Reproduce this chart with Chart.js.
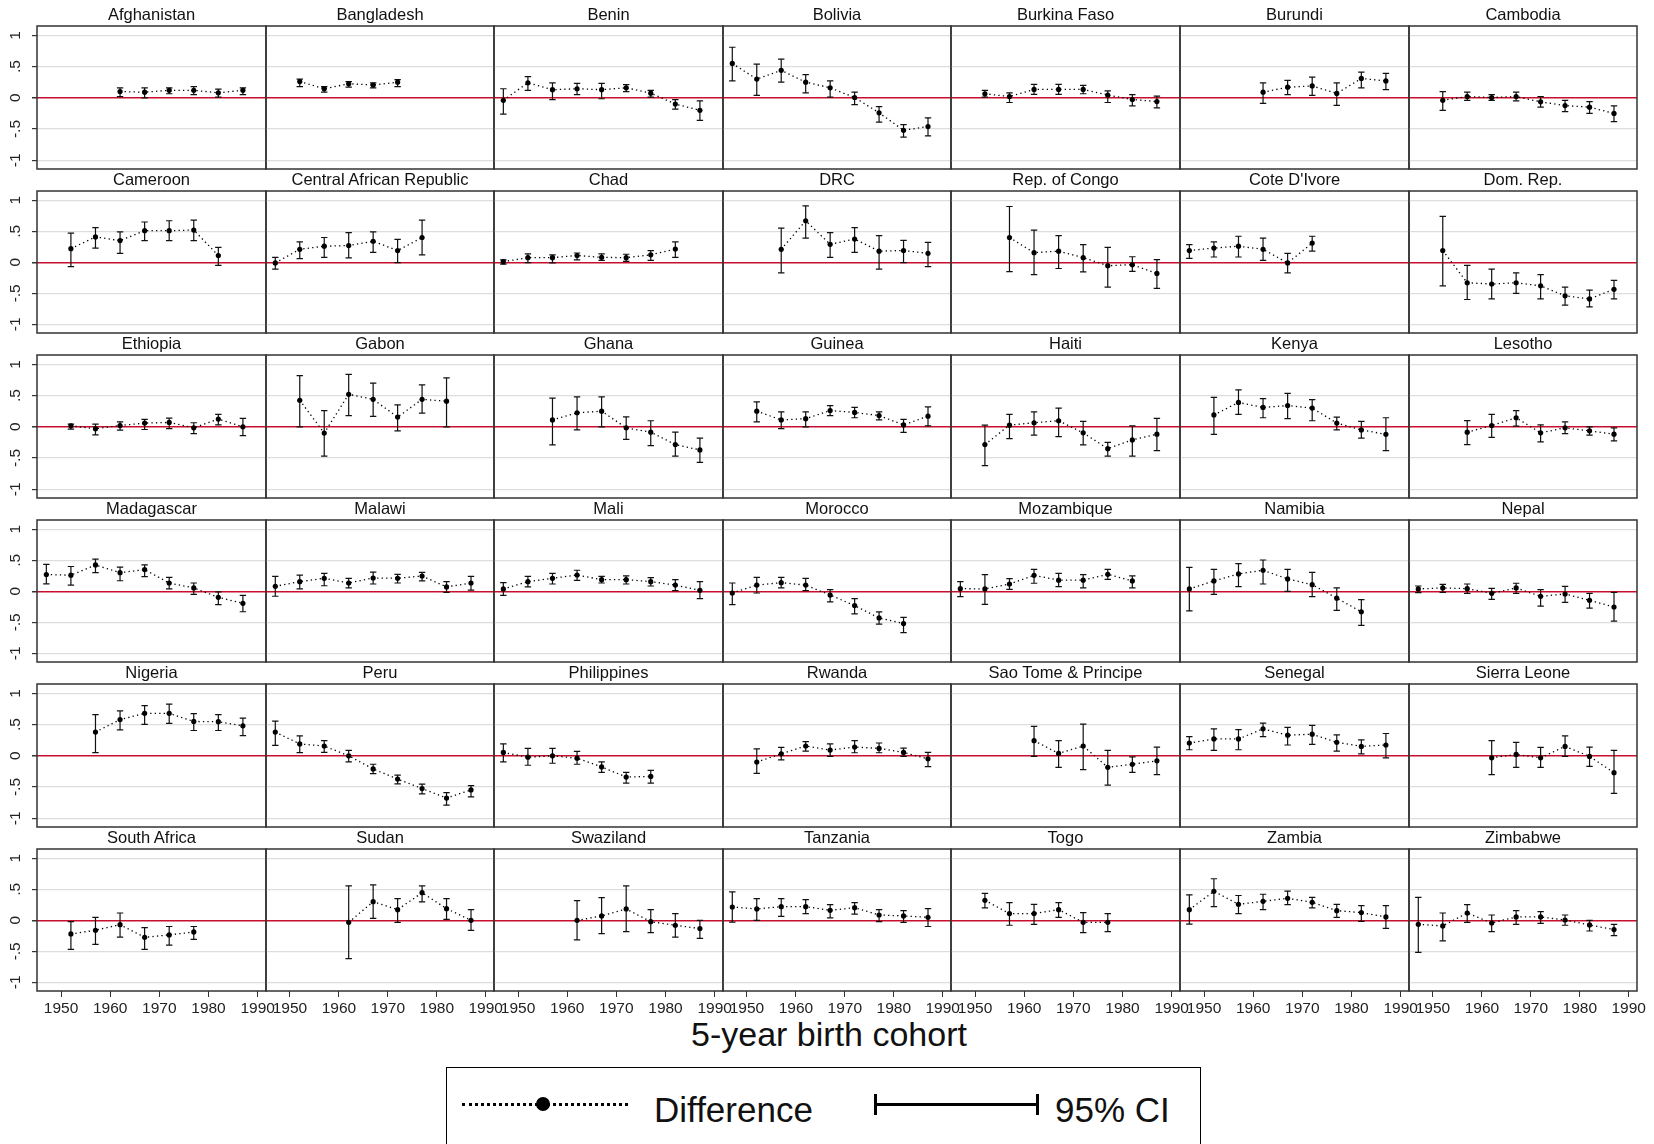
<!DOCTYPE html>
<html>
<head>
<meta charset="utf-8">
<title>Difference by 5-year birth cohort</title>
<script src="https://cdn.jsdelivr.net/npm/chart.js@4.4.1/dist/chart.umd.min.js"></script>
<style>
  body { margin: 0; background: #fff; width: 1654px; height: 1144px; overflow: hidden; position: relative;
         font-family: "Liberation Sans", Arial, sans-serif; color: #111; }
  canvas { position: absolute; }
  .ttl { position: absolute; text-align: center; font-size: 16.5px; line-height: 20px; white-space: nowrap; }
  #xtitle { position: absolute; left: 529px; width: 600px; top: 1015px; text-align: center; font-size: 34px; line-height: 38px; }
  #legend { position: absolute; left: 446px; top: 1067px; width: 753px; height: 120px; border: 1.5px solid #000; }
  .lg { position: absolute; }
</style>
</head>
<body>
<div id="xtitle">5-year birth cohort</div>
<div id="legend"></div>
<div class="lg" style="left:462px; top:1103px; width:166px; border-top:3px dotted #000;"></div>
<div class="lg" style="left:536px; top:1097px; width:14px; height:14px; border-radius:50%; background:#000;"></div>
<div class="lg" style="left:654px; top:1090px; font-size:35px; line-height:40px;">Difference</div>
<div class="lg" style="left:874px; top:1103px; width:165px; height:3px; background:#000;"></div>
<div class="lg" style="left:874px; top:1094px; width:3px; height:21px; background:#000;"></div>
<div class="lg" style="left:1036px; top:1094px; width:3px; height:21px; background:#000;"></div>
<div class="lg" style="left:1055px; top:1090px; font-size:35px; line-height:40px;">95% CI</div>
<script>
const _ = null;

const countries = [
  'Afghanistan', 'Bangladesh', 'Benin', 'Bolivia', 'Burkina Faso', 'Burundi', 'Cambodia',
  'Cameroon', 'Central African Republic', 'Chad', 'DRC', 'Rep. of Congo', "Cote D'Ivore", 'Dom. Rep.',
  'Ethiopia', 'Gabon', 'Ghana', 'Guinea', 'Haiti', 'Kenya', 'Lesotho',
  'Madagascar', 'Malawi', 'Mali', 'Morocco', 'Mozambique', 'Namibia', 'Nepal',
  'Nigeria', 'Peru', 'Philippines', 'Rwanda', 'Sao Tome & Principe', 'Senegal', 'Sierra Leone',
  'South Africa', 'Sudan', 'Swaziland', 'Tanzania', 'Togo', 'Zambia', 'Zimbabwe'
];

const years = [1947, 1952, 1957, 1962, 1967, 1972, 1977, 1982, 1987];
const xTicks = [1950, 1960, 1970, 1980, 1990];
const yTicks = [-1, -0.5, 0, 0.5, 1];
const yTickLabels = ['-1', '-.5', '0', '.5', '1'];

// point estimate of the difference, one row per country, one column per cohort
const diff = [
  [_, _, _, 0.10, 0.09, 0.12, 0.12, 0.08, 0.12],
  [_, 0.26, 0.145, 0.225, 0.205, 0.25, _, _, _],
  [-0.04, 0.24, 0.13, 0.145, 0.13, 0.16, 0.075, -0.10, -0.20],
  [0.55, 0.30, 0.44, 0.25, 0.16, 0.005, -0.24, -0.52, -0.46],
  [_, 0.065, 0.02, 0.135, 0.135, 0.135, 0.043, -0.027, -0.06],
  [_, _, _, 0.09, 0.17, 0.19, 0.07, 0.31, 0.27],
  [_, -0.04, 0.02, 0.005, 0.02, -0.065, -0.124, -0.15, -0.25],
  [_, 0.22, 0.41, 0.35, 0.51, 0.51, 0.52, 0.11, _],
  [-0.01, 0.21, 0.26, 0.27, 0.34, 0.19, 0.40, _, _],
  [0.01, 0.075, 0.075, 0.11, 0.08, 0.075, 0.12, 0.215, _],
  [_, _, 0.21, 0.67, 0.29, 0.375, 0.18, 0.19, 0.145],
  [_, _, 0.40, 0.155, 0.18, 0.075, -0.054, -0.038, -0.18],
  [0.19, 0.23, 0.26, 0.21, -0.01, 0.31, _, _, _],
  [_, 0.19, -0.33, -0.35, -0.33, -0.38, -0.54, -0.59, -0.435],
  [_, 0.016, -0.03, 0.02, 0.06, 0.07, -0.016, 0.124, 0.0],
  [_, 0.425, -0.10, 0.52, 0.44, 0.156, 0.44, 0.41, _],
  [_, _, 0.11, 0.225, 0.25, -0.016, -0.086, -0.285, -0.37],
  [_, 0.25, 0.11, 0.13, 0.26, 0.23, 0.18, 0.03, 0.17],
  [_, -0.285, 0.027, 0.065, 0.097, -0.097, -0.35, -0.21, -0.118],
  [_, 0.19, 0.39, 0.31, 0.34, 0.30, 0.06, -0.05, -0.12],
  [_, _, -0.086, 0.02, 0.145, -0.097, -0.016, -0.065, -0.118],
  [0.27, 0.26, 0.425, 0.30, 0.35, 0.134, 0.054, -0.097, -0.194],
  [0.08, 0.156, 0.21, 0.134, 0.215, 0.21, 0.247, 0.07, 0.134],
  [0.038, 0.156, 0.21, 0.263, 0.188, 0.188, 0.156, 0.10, 0.016],
  [-0.027, 0.10, 0.14, 0.10, -0.06, -0.23, -0.43, -0.52, _],
  [0.043, 0.038, 0.118, 0.258, 0.18, 0.18, 0.274, 0.167, _],
  [0.038, 0.167, 0.28, 0.34, 0.2, 0.107, -0.11, -0.33, _],
  [0.038, 0.054, 0.043, -0.032, 0.054, -0.081, -0.043, -0.145, -0.253],
  [_, _, 0.38, 0.58, 0.68, 0.68, 0.55, 0.546, 0.48],
  [0.38, 0.19, 0.157, 0.0, -0.21, -0.373, -0.524, -0.676, -0.546],
  [0.054, -0.022, 0.0, -0.038, -0.178, -0.34, -0.33, _, _],
  [_, -0.10, 0.032, 0.157, 0.092, 0.14, 0.119, 0.054, -0.049],
  [_, _, _, 0.243, 0.038, 0.157, -0.184, -0.135, -0.081],
  [0.205, 0.27, 0.27, 0.432, 0.33, 0.346, 0.216, 0.151, 0.173],
  [_, _, _, -0.032, 0.022, -0.032, 0.151, -0.01, -0.27],
  [_, -0.22, -0.16, -0.07, -0.274, -0.236, -0.188, _, _],
  [_, _, _, -0.032, 0.30, 0.172, 0.446, 0.188, 0.0],
  [_, _, _, 0.0, 0.07, 0.183, -0.022, -0.08, -0.134],
  [0.215, 0.183, 0.22, 0.22, 0.161, 0.204, 0.086, 0.07, 0.048],
  [_, 0.323, 0.108, 0.108, 0.172, -0.032, -0.032, _, _],
  [0.172, 0.468, 0.258, 0.306, 0.355, 0.29, 0.156, 0.124, 0.054],
  [-0.065, -0.09, 0.118, -0.043, 0.054, 0.054, 0.005, -0.075, -0.15]
];

// lower end of the 95% CI
const ciLow = [
  [_, _, _, 0.02, 0.00, 0.065, 0.05, 0.01, 0.05],
  [_, 0.18, 0.09, 0.17, 0.16, 0.18, _, _, _],
  [-0.26, 0.12, -0.03, 0.05, -0.015, 0.10, 0.01, -0.18, -0.36],
  [0.27, 0.04, 0.25, 0.08, 0.01, -0.11, -0.39, -0.63, -0.61],
  [_, 0.01, -0.075, 0.054, 0.054, 0.065, -0.075, -0.13, -0.16],
  [_, _, _, -0.09, 0.05, 0.04, -0.12, 0.16, 0.13],
  [_, -0.2, -0.04, -0.04, -0.05, -0.15, -0.22, -0.25, -0.38],
  [_, -0.07, 0.23, 0.145, 0.35, 0.35, 0.35, -0.05, _],
  [-0.11, 0.06, 0.08, 0.07, 0.16, -0.005, 0.12, _, _],
  [-0.03, -0.005, -0.01, 0.04, 0.03, 0.016, 0.03, 0.08, _],
  [_, _, -0.17, 0.39, 0.08, 0.16, -0.11, -0.005, -0.07],
  [_, _, -0.15, -0.2, -0.1, -0.155, -0.40, -0.145, -0.42],
  [0.065, 0.086, 0.086, 0.03, -0.17, 0.18, _, _, _],
  [_, -0.38, -0.60, -0.59, -0.5, -0.59, -0.69, -0.72, -0.59],
  [_, -0.038, -0.13, -0.054, -0.043, -0.03, -0.11, 0.03, -0.14],
  [_, 0.0, -0.47, 0.18, 0.167, -0.065, 0.22, 0.0, _],
  [_, _, -0.29, -0.05, 0.0, -0.2, -0.3, -0.47, -0.57],
  [_, 0.08, -0.03, 0.0, 0.18, 0.145, 0.11, -0.09, 0.016],
  [_, -0.62, -0.19, -0.134, -0.156, -0.29, -0.47, -0.47, -0.38],
  [_, -0.12, 0.2, 0.145, 0.13, 0.097, -0.05, -0.18, -0.38],
  [_, _, -0.285, -0.17, 0.01, -0.24, -0.11, -0.134, -0.226],
  [0.12, 0.10, 0.30, 0.17, 0.237, 0.038, -0.048, -0.215, -0.33],
  [-0.08, 0.038, 0.09, 0.054, 0.118, 0.134, 0.167, -0.016, 0.02],
  [-0.065, 0.07, 0.118, 0.177, 0.134, 0.118, 0.086, 0.01, -0.118],
  [-0.215, -0.027, 0.054, 0.01, -0.17, -0.365, -0.53, -0.667, _],
  [-0.086, -0.21, 0.03, 0.13, 0.075, 0.054, 0.194, 0.054, _],
  [-0.317, -0.048, 0.075, 0.118, 0.0, -0.086, -0.306, -0.55, _],
  [-0.02, -0.016, -0.032, -0.13, -0.032, -0.24, -0.18, -0.27, -0.48],
  [_, _, 0.05, 0.416, 0.503, 0.52, 0.405, 0.405, 0.324],
  [0.168, 0.05, 0.054, -0.097, -0.286, -0.449, -0.611, -0.789, -0.659],
  [-0.097, -0.151, -0.119, -0.135, -0.265, -0.438, -0.438, _, _],
  [_, -0.28, -0.065, 0.076, -0.01, 0.049, 0.049, -0.01, -0.173],
  [_, _, _, -0.01, -0.184, -0.222, -0.47, -0.265, -0.3],
  [0.097, 0.086, 0.097, 0.308, 0.173, 0.184, 0.076, 0.032, -0.032],
  [_, _, _, -0.3, -0.184, -0.184, -0.01, -0.168, -0.6],
  [_, -0.47, -0.387, -0.27, -0.47, -0.4, -0.306, _, _],
  [_, _, _, -0.618, 0.032, -0.032, 0.296, 0.016, -0.161],
  [_, _, _, -0.317, -0.215, -0.183, -0.2, -0.27, -0.29],
  [-0.03, 0.0, 0.065, 0.108, 0.038, 0.1, -0.022, -0.032, -0.1],
  [_, 0.2, -0.08, -0.065, 0.048, -0.2, -0.183, _, _],
  [-0.06, 0.22, 0.108, 0.172, 0.253, 0.2, 0.048, -0.016, -0.13],
  [-0.516, -0.333, -0.032, -0.183, -0.065, -0.048, -0.08, -0.172, -0.247]
];

// upper end of the 95% CI
const ciHigh = [
  [_, _, _, 0.16, 0.16, 0.16, 0.18, 0.14, 0.16],
  [_, 0.30, 0.18, 0.26, 0.24, 0.29, _, _, _],
  [0.145, 0.34, 0.24, 0.23, 0.23, 0.21, 0.12, -0.03, -0.05],
  [0.81, 0.54, 0.62, 0.37, 0.27, 0.09, -0.14, -0.43, -0.32],
  [_, 0.12, 0.08, 0.215, 0.215, 0.2, 0.11, 0.05, 0.027],
  [_, _, _, 0.24, 0.28, 0.33, 0.24, 0.41, 0.39],
  [_, 0.1, 0.09, 0.05, 0.09, 0.02, -0.04, -0.06, -0.13],
  [_, 0.47, 0.56, 0.49, 0.65, 0.67, 0.68, 0.24, _],
  [0.08, 0.33, 0.40, 0.48, 0.49, 0.37, 0.68, _, _],
  [0.04, 0.135, 0.12, 0.15, 0.135, 0.13, 0.19, 0.33, _],
  [_, _, 0.55, 0.91, 0.48, 0.56, 0.43, 0.355, 0.32],
  [_, _, 0.90, 0.52, 0.43, 0.285, 0.24, 0.09, 0.043],
  [0.285, 0.33, 0.42, 0.39, 0.145, 0.42, _, _, _],
  [_, 0.74, -0.05, -0.11, -0.17, -0.2, -0.4, -0.45, -0.29],
  [_, 0.043, 0.043, 0.08, 0.12, 0.14, 0.065, 0.2, 0.134],
  [_, 0.82, 0.26, 0.84, 0.70, 0.35, 0.67, 0.785, _],
  [_, _, 0.46, 0.48, 0.48, 0.16, 0.097, -0.086, -0.18],
  [_, 0.40, 0.24, 0.24, 0.34, 0.31, 0.24, 0.12, 0.32],
  [_, 0.027, 0.2, 0.24, 0.3, 0.086, -0.25, 0.016, 0.134],
  [_, 0.47, 0.59, 0.45, 0.535, 0.435, 0.156, 0.086, 0.145],
  [_, _, 0.1, 0.2, 0.26, 0.03, 0.08, 0.0, -0.016],
  [0.435, 0.40, 0.52, 0.39, 0.425, 0.226, 0.134, -0.01, -0.065],
  [0.24, 0.26, 0.29, 0.21, 0.31, 0.274, 0.306, 0.156, 0.24],
  [0.14, 0.24, 0.29, 0.34, 0.24, 0.25, 0.22, 0.188, 0.156],
  [0.134, 0.226, 0.226, 0.21, 0.027, -0.118, -0.333, -0.42, _],
  [0.156, 0.27, 0.204, 0.355, 0.29, 0.27, 0.355, 0.25, _],
  [0.387, 0.355, 0.446, 0.505, 0.355, 0.306, 0.054, -0.134, _],
  [0.086, 0.113, 0.118, 0.048, 0.13, 0.027, 0.08, -0.032, -0.016],
  [_, _, 0.66, 0.72, 0.805, 0.827, 0.676, 0.66, 0.605],
  [0.557, 0.32, 0.243, 0.086, -0.135, -0.308, -0.454, -0.589, -0.476],
  [0.19, 0.119, 0.119, 0.07, -0.097, -0.265, -0.232, _, _],
  [_, 0.11, 0.135, 0.227, 0.19, 0.243, 0.205, 0.124, 0.054],
  [_, _, _, 0.47, 0.243, 0.508, 0.086, -0.016, 0.14],
  [0.308, 0.432, 0.42, 0.524, 0.454, 0.486, 0.335, 0.254, 0.357],
  [_, _, _, 0.243, 0.216, 0.135, 0.319, 0.14, 0.086],
  [_, -0.02, 0.048, 0.118, -0.118, -0.1, -0.1, _, _],
  [_, _, _, 0.554, 0.57, 0.35, 0.554, 0.35, 0.172],
  [_, _, _, 0.317, 0.366, 0.554, 0.172, 0.108, 0.0],
  [0.46, 0.35, 0.35, 0.333, 0.253, 0.285, 0.172, 0.156, 0.188],
  [_, 0.435, 0.285, 0.258, 0.285, 0.124, 0.108, _, _],
  [0.41, 0.67, 0.4, 0.42, 0.47, 0.37, 0.258, 0.236, 0.236],
  [0.37, 0.118, 0.253, 0.086, 0.156, 0.14, 0.086, 0.0, -0.065]
];

Chart.defaults.font.family = '"Liberation Sans", Arial, sans-serif';
Chart.defaults.color = '#222';

// CI whiskers, drawn with the chart's own scales
const errorBars = {
  id: 'errorBars',
  beforeDatasetsDraw(chart) {
    const ds = chart.data.datasets[0];
    const xs = chart.scales.x, ys = chart.scales.y;
    const ctx = chart.ctx;
    ctx.save();
    ctx.strokeStyle = '#111';
    ctx.lineWidth = 1.2;
    ds.data.forEach((p, i) => {
      const lo = ds.ciLow[i], hi = ds.ciHigh[i];
      if (lo === null || hi === null) return;
      const x = xs.getPixelForValue(p.x);
      const yl = ys.getPixelForValue(lo), yh = ys.getPixelForValue(hi);
      ctx.beginPath();
      ctx.moveTo(x, yl); ctx.lineTo(x, yh);
      ctx.moveTo(x - 3.2, yl); ctx.lineTo(x + 3.2, yl);
      ctx.moveTo(x - 3.2, yh); ctx.lineTo(x + 3.2, yh);
      ctx.stroke();
    });
    ctx.restore();
  }
};

// frame around each plot region
const frame = {
  id: 'frame',
  afterDraw(chart) {
    const a = chart.chartArea, ctx = chart.ctx;
    ctx.save();
    ctx.strokeStyle = '#333';
    ctx.lineWidth = 1.5;
    ctx.strokeRect(a.left, a.top, a.right - a.left, a.bottom - a.top);
    ctx.restore();
  }
};

const left0 = 37, panelW = 228.6, top0 = 26.4, rowStep = 164.5, panelH = 142.4;
const pad = 20;

countries.forEach((name, k) => {
  const r = Math.floor(k / 7), c = k % 7;
  const x0 = Math.round(left0 + c * panelW), x1 = Math.round(left0 + (c + 1) * panelW);
  const y0 = Math.round(top0 + r * rowStep), y1 = Math.round(top0 + r * rowStep + panelH);
  const firstCol = c === 0, lastRow = r === 5;
  const padL = firstCol ? 0 : pad, yAxisW = firstCol ? 37 : 0;
  const xAxisH = lastRow ? 30 : 0, padB = lastRow ? 10 : pad;

  const cv = document.createElement('canvas');
  cv.width = (x1 - x0) + padL + yAxisW + pad;
  cv.height = (y1 - y0) + pad + xAxisH + padB;
  cv.style.left = (x0 - padL - yAxisW) + 'px';
  cv.style.top = (y0 - pad) + 'px';
  document.body.appendChild(cv);

  const t = document.createElement('div');
  t.className = 'ttl';
  t.textContent = name;
  t.style.left = x0 + 'px';
  t.style.width = (x1 - x0) + 'px';
  t.style.top = (y0 - 22) + 'px';
  document.body.appendChild(t);

  new Chart(cv.getContext('2d'), {
    type: 'line',
    data: {
      datasets: [{
        data: years.map((yr, i) => ({ x: yr, y: diff[k][i] })),
        ciLow: ciLow[k],
        ciHigh: ciHigh[k],
        borderColor: '#000',
        borderWidth: 1.3,
        borderDash: [1.3, 3.2],
        pointRadius: 2.6,
        pointBackgroundColor: '#000',
        pointBorderWidth: 0,
        tension: 0
      }]
    },
    options: {
      responsive: false,
      animation: false,
      events: [],
      layout: { padding: { left: padL, right: pad, top: pad, bottom: padB } },
      plugins: { legend: { display: false }, tooltip: { enabled: false } },
      scales: {
        x: {
          type: 'linear',
          min: 1945.1,
          max: 1991.7,
          display: lastRow,
          afterBuildTicks: s => { s.ticks = xTicks.map(v => ({ value: v })); },
          afterFit: s => { s.height = xAxisH; },
          grid: { drawOnChartArea: false, drawTicks: true, tickLength: 6, color: '#333' },
          border: { display: false },
          ticks: { font: { size: 15.5 }, color: '#222', padding: 2, maxRotation: 0, autoSkip: false,
                   callback: v => String(v) }
        },
        y: {
          min: -1.14,
          max: 1.15,
          afterBuildTicks: s => { s.ticks = yTicks.map(v => ({ value: v })); },
          afterFit: s => { s.width = yAxisW; },
          grid: {
            color: g => (g.tick && g.tick.value === 0) ? '#c8102e' : '#dddddd',
            lineWidth: g => (g.tick && g.tick.value === 0) ? 1.5 : 1.2,
            tickColor: '#333',
            drawTicks: firstCol,
            tickLength: 5
          },
          border: { display: false },
          ticks: {
            display: firstCol,
            font: { size: 15.5 },
            color: '#222',
            minRotation: 90,
            maxRotation: 90,
            crossAlign: 'center',
            padding: 7,
            callback: v => yTickLabels[yTicks.indexOf(v)]
          }
        }
      }
    },
    plugins: [errorBars, frame]
  });
});
</script>
</body>
</html>
